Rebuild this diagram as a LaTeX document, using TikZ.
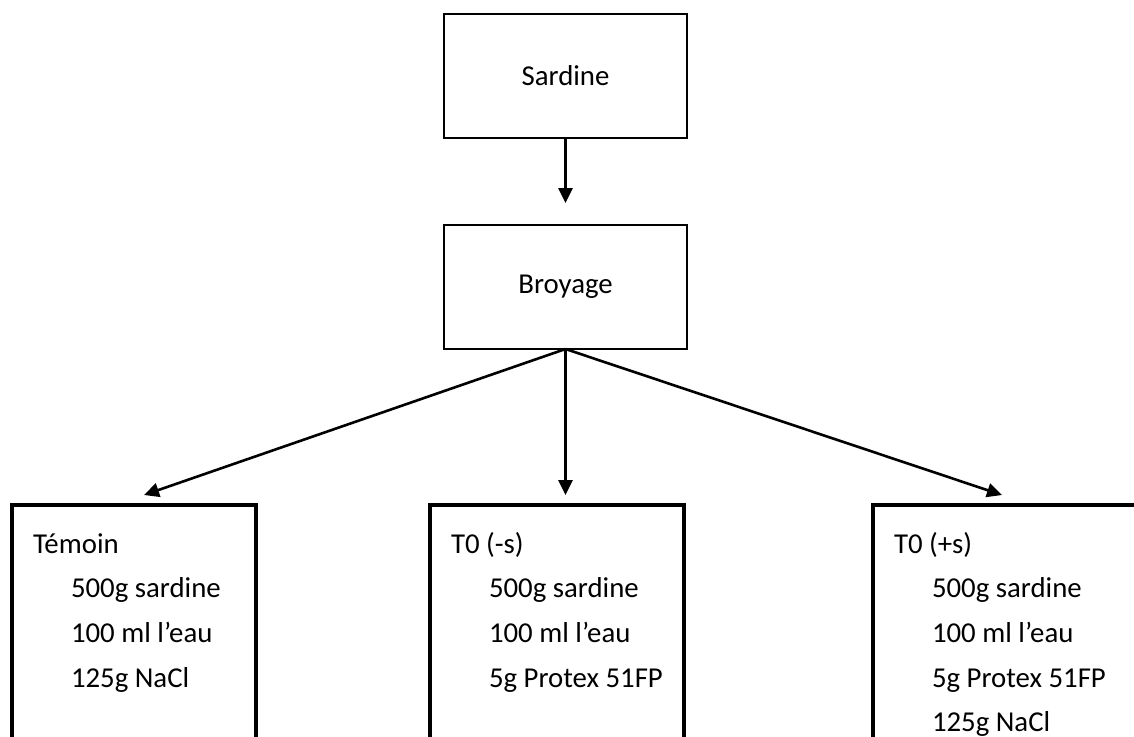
\documentclass[tikz,border=0pt]{standalone}
\usepackage{fontspec}
\setmainfont{Carlito}
\usepackage{tikz}
\usetikzlibrary{positioning, arrows.meta}

\newcommand{\essai}[2]{\parbox[t][140pt][t]{#1}{\raggedright\strut #2}}
\newcommand{\retrait}{\hspace*{19pt}}

\begin{document}
\begin{tikzpicture}[
  x=1pt, y=1pt,
  font=\fontsize{14.4pt}{22.35pt}\selectfont,
  outer sep=0pt,
  etape/.style       ={rectangle, draw, line width=1.35pt,
                       minimum width=121.5pt, minimum height=62pt},
  echantillon/.style ={rectangle, draw, line width=1.85pt, anchor=north west,
                       inner xsep=10.5pt, inner ysep=8.35pt},
  fleche/.style      ={-{Triangle[length=7.5pt, width=7pt]}, line width=1.3pt}
]
\useasboundingbox (0,0) rectangle (567,-368);
\clip (0,0) rectangle (567,-368);

%--- Etapes ------------------------------------------------------------------
\node[etape] (sardine) at (282.75,-38) {Sardine};
\node[etape] (broyage) [below=43.5pt of sardine] {Broyage};

%--- Echantillons ------------------------------------------------------------
\node[echantillon] (temoin) at (6,-252.5) {\essai{101pt}{T\'emoin\\
\retrait 500g sardine\\
\retrait 100 ml l’eau\\
\retrait 125g NaCl}};

\node[echantillon] (tzero) at (215,-252.5) {\essai{106pt}{T0 (-s)\\
\retrait 500g sardine\\
\retrait 100 ml l’eau\\
\retrait 5g Protex 51FP}};

\node[echantillon] (tplus) at (436.5,-252.5) {\essai{125pt}{T0 (+s)\\
\retrait 500g sardine\\
\retrait 100 ml l’eau\\
\retrait 5g Protex 51FP\\
\retrait 125g NaCl}};

%--- Fleches -----------------------------------------------------------------
\draw[fleche, shorten >=11pt] (sardine) -- (broyage);
\draw[fleche] (broyage.south) -- ([xshift=5pt, yshift=5pt]temoin.north);
\draw[fleche, shorten >=5pt] (broyage.south) -- (broyage.south |- tzero.north);
\draw[fleche] (broyage.south) -- ([xshift=64.5pt, yshift=5pt]tplus.north west);
\end{tikzpicture}
\end{document}
